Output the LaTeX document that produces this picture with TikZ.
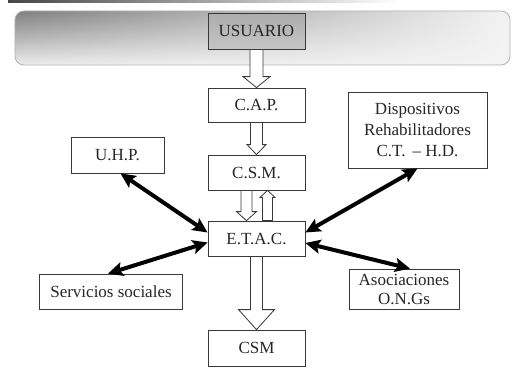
\documentclass[tikz,border=0pt]{standalone}
\usepackage{fontspec}
\setmainfont{Liberation Serif}
\usetikzlibrary{calc,arrows.meta,fadings}

\tikzfading[name=fadeder, left color=transparent!0, right color=transparent!100]

% flecha hueca: origen, destino, medio ancho, medio ancho punta, largo punta
\newcommand{\flechahueca}[5]{%
        \path (#1) coordinate (fh-s) (#2) coordinate (fh-e);
        \path ($(fh-e)!#5!(fh-s)$) coordinate (fh-b);
        \draw[hueca] ($(fh-s)!#3!90:(fh-e)$) -- ($(fh-b)!#3!90:(fh-e)$) -- ($(fh-b)!#4!90:(fh-e)$)
                -- (fh-e) -- ($(fh-b)!#4!-90:(fh-e)$) -- ($(fh-b)!#3!-90:(fh-e)$) -- ($(fh-s)!#3!-90:(fh-e)$) -- cycle;}

\begin{document}
\begin{tikzpicture}[x=1pt,y=-1pt,
        caja/.style={draw=gray!45!black, line width=0.8pt, fill=white, text=black!85,
                font=\fontsize{17}{21}\selectfont, inner sep=0pt, align=center},
        hueca/.style={draw=gray!45!black, line width=0.8pt, fill=white, line join=miter},
        doble/.style={line width=4pt, black, {Stealth[length=15pt,width=14pt,inset=3pt]}-{Stealth[length=15pt,width=14pt,inset=3pt]}}]
                        \useasboundingbox (0,0) rectangle (513,367);

                        \shade[left color=gray!55!black, right color=white] (8,0) rectangle (400,2.5);
                        \fill[gray!9, rounded corners=9pt] (15,11) rectangle (510,65);
                        \shade[top color=gray!100, bottom color=gray!14, path fading=fadeder, rounded corners=9pt] (15,11) rectangle (510,65);
                        \draw[gray!60, line width=0.8pt, rounded corners=9pt] (15,11) rectangle (510,65);

                                \node[caja, top color=gray!65, bottom color=gray!45, minimum width=97pt, minimum height=36pt] (usuario) at (256.5,31) {USUARIO};
                                \node[caja, minimum width=97pt, minimum height=34pt] (cap) at (256.5,105) {C.A.P.};
                                \node[caja, minimum width=97pt, minimum height=35pt] (csm) at (256.5,172.5) {C.S.M.};
                                \node[caja, minimum width=97pt, minimum height=35pt] (etac) at (256.5,238.5) {E.T.A.C.};
                                \node[caja, minimum width=97pt, minimum height=36pt] (csmdos) at (256.5,348) {CSM};
                                \node[caja, minimum width=93pt, minimum height=36pt] (uhp) at (117.5,155) {U.H.P.};
                                \node[caja, minimum width=139pt, minimum height=76pt] (dispositivos) at (417.5,130)
                                        {Dispositivos\\Rehabilitadores\\C.T. \,-- H.D.};
                                \node[caja, minimum width=143pt, minimum height=35pt] (servicios) at (111,291.5) {Servicios sociales};
                                \node[caja, minimum width=110pt, minimum height=40pt, font=\fontsize{17}{19}\selectfont] (asociaciones) at (404,289)
                                        {Asociaciones\\O.N.Gs};

                                \flechahueca{usuario.south}{cap.north}{6.5pt}{13.5pt}{11pt}
                                \flechahueca{cap.south}{csm.north}{6pt}{9.5pt}{10pt}
                                \flechahueca{[xshift=-10pt]csm.south}{[xshift=-10pt]etac.north}{5.5pt}{10pt}{9pt}
                                \flechahueca{[xshift=11pt]etac.north}{[xshift=11pt]csm.south}{5pt}{7.5pt}{7pt}
                                \flechahueca{etac.south}{csmdos.north}{6pt}{18pt}{20pt}

                                \draw[doble] ([xshift=3pt]uhp.south) -- ([yshift=6pt]etac.west);
                                \draw[doble] ([xshift=-3pt]servicios.north) -- ([yshift=-4pt]etac.west);
                                \draw[doble] (dispositivos.south) -- ([yshift=6pt]etac.east);
                                \draw[doble] ([yshift=-4.5pt]etac.east) -- ([xshift=6pt]asociaciones.north);
                    \end{tikzpicture}
\end{document}
